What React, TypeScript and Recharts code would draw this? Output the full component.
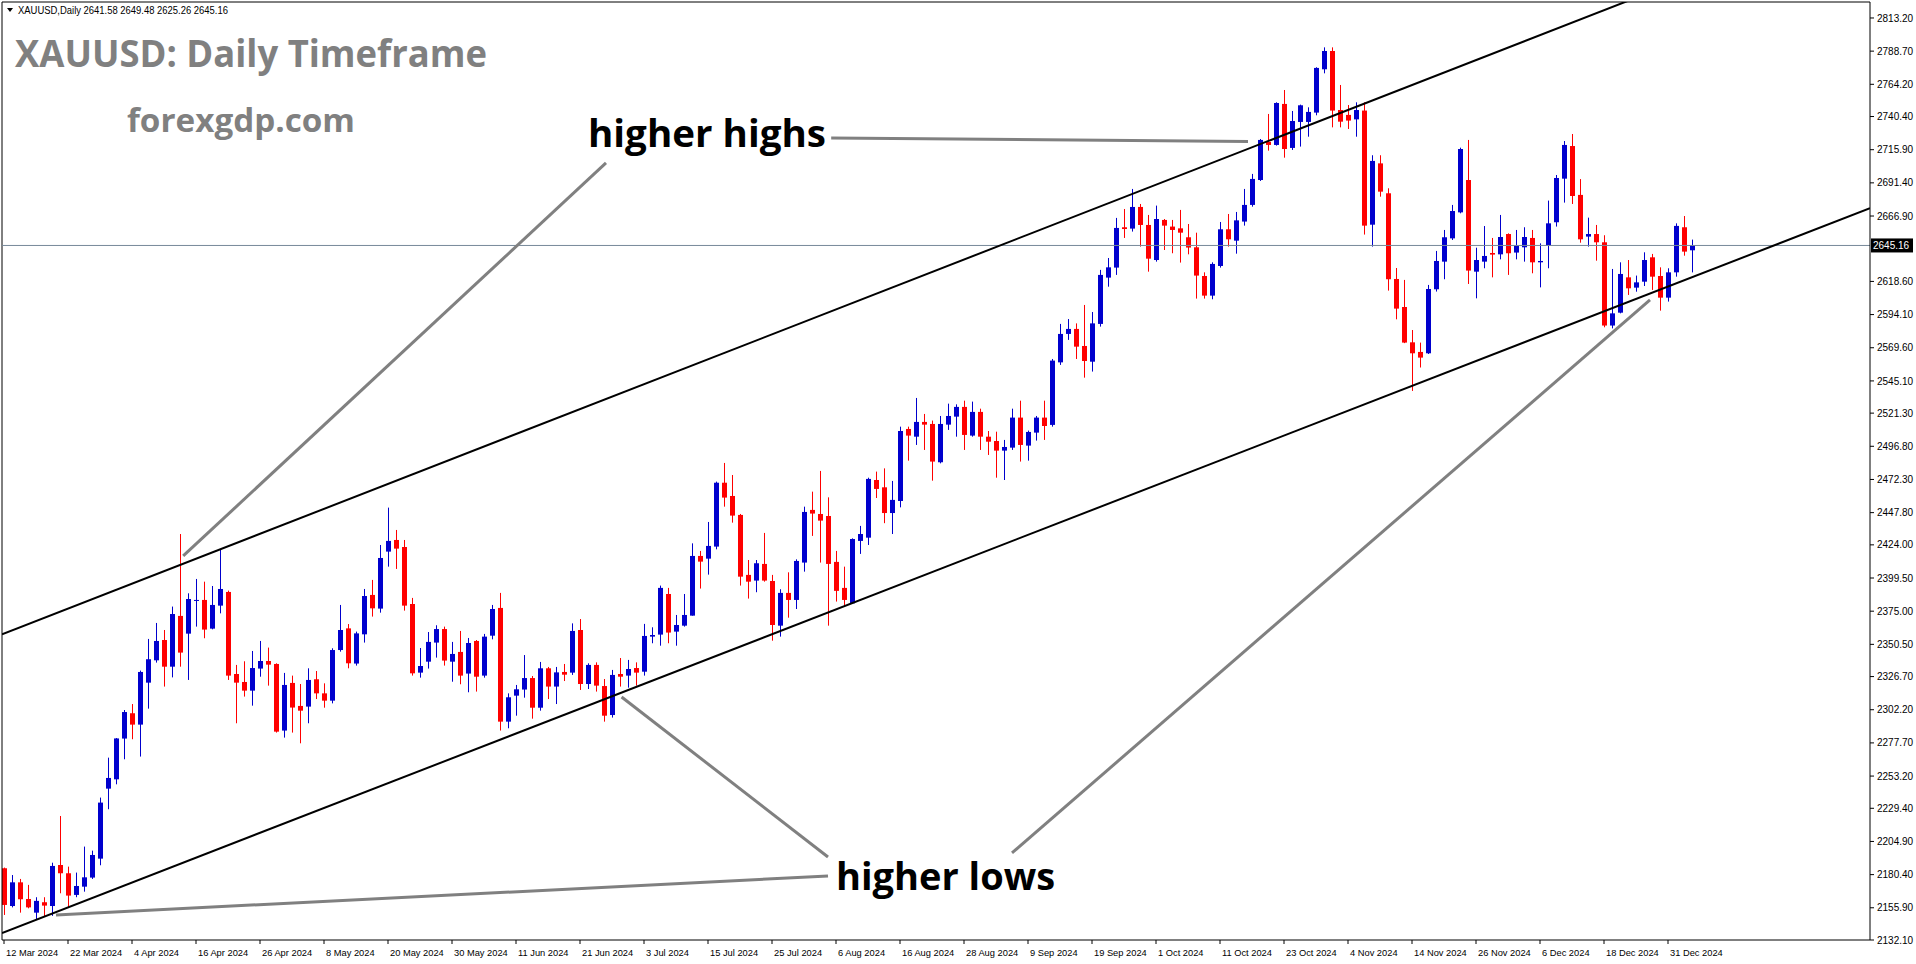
import { ComposedChart, Bar, XAxis, YAxis, ReferenceLine } from "recharts";

// daily candles, 12 Mar 2024 .. 6 Jan 2025 (index = bar number)
const OPENS = [
  2185.1, 2157.2, 2174.7, 2162.4, 2152.3, 2160.0, 2157.2, 2187.5, 2181.4, 2165.4,
  2171.5, 2178.2, 2192.2, 2243.9, 2250.8, 2280.9, 2299.6, 2291.2, 2322.2, 2338.7,
  2353.7, 2334.0, 2371.5, 2358.4, 2382.8, 2383.3, 2362.1, 2379.1, 2389.2, 2328.6,
  2322.7, 2316.3, 2332.6, 2338.2, 2336.0, 2286.8, 2322.0, 2305.0, 2304.5, 2324.7,
  2314.3, 2308.9, 2346.3, 2362.3, 2336.3, 2357.9, 2387.0, 2376.9, 2419.0, 2427.6,
  2422.4, 2380.3, 2329.6, 2337.7, 2351.8, 2361.8, 2337.7, 2344.9, 2328.9, 2353.0,
  2327.4, 2356.9, 2377.4, 2293.4, 2312.6, 2317.1, 2325.6, 2303.7, 2332.8, 2319.3,
  2330.1, 2329.6, 2361.1, 2321.2, 2335.3, 2319.7, 2298.3, 2328.6, 2327.4, 2333.0,
  2330.3, 2356.2, 2357.7, 2387.7, 2359.9, 2364.3, 2371.7, 2415.8, 2413.8, 2422.7,
  2469.9, 2460.1, 2446.1, 2401.8, 2397.6, 2409.9, 2397.3, 2364.3, 2388.5, 2383.3,
  2410.9, 2449.8, 2446.8, 2445.3, 2411.4, 2392.2, 2380.8, 2426.9, 2429.3, 2471.9,
  2466.5, 2447.5, 2456.4, 2509.6, 2503.9, 2514.8, 2513.3, 2485.0, 2512.8, 2518.7,
  2525.9, 2504.7, 2522.2, 2503.9, 2500.7, 2493.6, 2495.8, 2518.0, 2497.3, 2506.9,
  2518.0, 2512.6, 2558.8, 2579.8, 2583.5, 2570.9, 2559.3, 2587.2, 2621.4, 2628.8,
  2658.6, 2657.6, 2673.6, 2660.3, 2634.4, 2664.0, 2659.1, 2657.8, 2651.2, 2643.8,
  2622.6, 2608.1, 2630.0, 2657.1, 2648.7, 2662.8, 2675.1, 2693.5, 2721.8, 2719.4,
  2749.7, 2717.2, 2736.4, 2736.4, 2743.3, 2775.3, 2788.8, 2745.2, 2741.6, 2738.3,
  2744.8, 2660.5, 2705.8, 2683.7, 2620.4, 2599.7, 2573.6, 2566.5, 2565.5, 2612.8,
  2633.2, 2650.4, 2669.6, 2693.5, 2625.8, 2633.2, 2639.6, 2638.6, 2653.6, 2639.9,
  2643.8, 2650.7, 2632.7, 2645.3, 2662.3, 2694.5, 2718.6, 2682.5, 2651.7, 2653.6,
  2647.5, 2586.0, 2595.5, 2621.6, 2614.0, 2618.4, 2636.4, 2622.6, 2606.6, 2625.3,
  2658.6, 2641.58,
];
const HIGHS = [
  2185.6, 2180.1, 2177.2, 2172.8, 2163.7, 2163.7, 2189.2, 2223.7, 2186.3, 2181.9,
  2201.1, 2198.1, 2237.3, 2266.8, 2281.3, 2302.0, 2306.4, 2331.1, 2354.5, 2366.3,
  2361.1, 2378.4, 2432.0, 2388.2, 2398.8, 2396.8, 2393.6, 2420.2, 2390.2, 2335.3,
  2338.0, 2345.6, 2353.0, 2348.1, 2336.5, 2329.4, 2327.4, 2321.2, 2332.8, 2330.8,
  2321.7, 2347.6, 2379.6, 2365.5, 2359.9, 2391.4, 2398.1, 2423.9, 2451.5, 2435.0,
  2427.6, 2384.8, 2347.8, 2359.6, 2364.6, 2363.6, 2352.3, 2360.4, 2355.2, 2353.7,
  2358.2, 2379.6, 2388.5, 2314.3, 2320.5, 2342.6, 2327.1, 2337.5, 2333.8, 2333.8,
  2336.0, 2366.0, 2369.2, 2336.5, 2337.2, 2324.9, 2331.6, 2340.4, 2339.0, 2337.2,
  2365.6, 2363.1, 2393.9, 2392.2, 2372.2, 2387.7, 2425.1, 2419.5, 2440.9, 2470.7,
  2484.5, 2475.6, 2446.8, 2412.8, 2412.8, 2432.8, 2401.8, 2391.2, 2403.7, 2413.3,
  2452.2, 2463.3, 2478.6, 2459.1, 2419.5, 2407.9, 2428.8, 2438.0, 2473.6, 2478.1,
  2480.5, 2471.2, 2511.3, 2511.3, 2532.5, 2520.7, 2515.8, 2519.2, 2528.3, 2527.8,
  2530.5, 2529.8, 2524.6, 2508.1, 2507.6, 2501.5, 2524.6, 2530.5, 2508.4, 2519.2,
  2530.5, 2561.3, 2587.2, 2590.8, 2587.6, 2601.2, 2596.0, 2627.1, 2635.9, 2665.5,
  2672.1, 2686.9, 2675.8, 2667.7, 2674.6, 2664.7, 2664.0, 2671.4, 2661.0, 2654.6,
  2625.3, 2632.7, 2662.5, 2668.4, 2669.9, 2686.9, 2698.0, 2723.8, 2742.3, 2750.9,
  2760.0, 2744.5, 2749.2, 2747.2, 2776.8, 2791.5, 2791.5, 2763.7, 2748.9, 2750.9,
  2750.9, 2711.8, 2711.8, 2687.4, 2628.5, 2619.7, 2582.7, 2573.4, 2616.0, 2641.1,
  2656.6, 2675.1, 2717.4, 2723.1, 2643.5, 2659.5, 2650.7, 2667.7, 2654.1, 2656.6,
  2658.6, 2656.6, 2646.7, 2678.3, 2697.2, 2722.3, 2727.5, 2694.2, 2665.7, 2660.3,
  2652.7, 2627.8, 2632.7, 2634.4, 2622.9, 2640.1, 2638.9, 2629.0, 2628.3, 2661.5,
  2666.9, 2649.48,
];
const LOWS = [
  2150.6, 2156.2, 2152.3, 2155.5, 2146.9, 2149.4, 2149.9, 2166.6, 2156.2, 2163.7,
  2167.8, 2177.2, 2187.3, 2228.7, 2247.1, 2265.6, 2280.4, 2267.6, 2303.0, 2337.0,
  2319.3, 2326.1, 2334.0, 2324.2, 2363.6, 2355.0, 2361.6, 2373.4, 2324.2, 2292.2,
  2311.9, 2305.2, 2326.6, 2320.0, 2285.3, 2281.6, 2285.3, 2277.4, 2292.2, 2310.1,
  2303.7, 2306.9, 2345.1, 2332.8, 2334.8, 2351.8, 2371.0, 2373.9, 2407.9, 2406.2,
  2375.4, 2327.4, 2325.9, 2332.6, 2340.7, 2334.8, 2322.9, 2321.0, 2315.1, 2315.6,
  2325.9, 2354.2, 2286.8, 2288.5, 2297.8, 2311.1, 2295.6, 2301.5, 2310.1, 2306.4,
  2323.4, 2327.9, 2316.8, 2317.5, 2315.6, 2293.4, 2296.4, 2319.3, 2318.5, 2320.0,
  2327.4, 2351.3, 2349.5, 2351.3, 2349.5, 2363.6, 2371.7, 2391.7, 2402.0, 2420.7,
  2452.2, 2440.4, 2393.9, 2384.3, 2389.0, 2396.8, 2353.2, 2356.2, 2370.2, 2376.6,
  2404.2, 2430.6, 2410.9, 2364.3, 2382.1, 2378.4, 2380.3, 2417.3, 2423.9, 2458.6,
  2440.0, 2432.0, 2451.7, 2486.2, 2497.8, 2494.1, 2471.4, 2484.2, 2508.9, 2503.9,
  2494.1, 2503.9, 2494.1, 2490.4, 2473.6, 2471.9, 2494.1, 2485.5, 2486.2, 2501.0,
  2501.5, 2511.3, 2556.9, 2575.4, 2561.3, 2547.5, 2552.0, 2585.2, 2614.7, 2623.4,
  2650.7, 2655.4, 2644.3, 2625.8, 2633.2, 2641.8, 2639.4, 2632.5, 2638.6, 2605.9,
  2605.9, 2605.4, 2628.8, 2644.3, 2639.1, 2659.8, 2673.8, 2692.8, 2715.2, 2718.9,
  2710.0, 2715.7, 2718.2, 2725.5, 2741.3, 2772.3, 2732.4, 2732.4, 2731.2, 2725.5,
  2653.2, 2644.3, 2681.2, 2611.8, 2590.6, 2573.0, 2537.7, 2555.0, 2565.0, 2611.1,
  2620.2, 2649.2, 2668.9, 2616.7, 2606.1, 2628.3, 2621.6, 2634.9, 2623.4, 2634.9,
  2633.2, 2624.6, 2614.2, 2628.3, 2659.1, 2676.8, 2675.8, 2647.2, 2644.3, 2633.9,
  2584.7, 2583.9, 2595.0, 2608.6, 2611.0, 2615.2, 2612.3, 2597.0, 2603.7, 2622.1,
  2637.6, 2625.26,
];
const CLOSES = [
  2158.0, 2174.7, 2162.2, 2156.2, 2161.0, 2157.5, 2186.8, 2181.4, 2164.9, 2172.0,
  2178.4, 2194.9, 2233.6, 2251.8, 2281.0, 2300.5, 2291.2, 2330.1, 2339.5, 2353.0,
  2334.0, 2372.9, 2344.4, 2384.0, 2383.3, 2361.4, 2379.6, 2391.4, 2327.4, 2322.2,
  2316.3, 2333.0, 2338.2, 2335.5, 2286.0, 2320.5, 2303.8, 2301.5, 2324.2, 2314.3,
  2308.9, 2346.3, 2361.1, 2336.5, 2358.6, 2386.2, 2377.1, 2414.3, 2426.9, 2421.2,
  2379.1, 2329.1, 2334.5, 2352.3, 2361.8, 2338.5, 2343.4, 2327.4, 2351.5, 2326.6,
  2356.2, 2376.6, 2293.4, 2311.4, 2317.3, 2325.6, 2303.7, 2332.8, 2319.3, 2329.8,
  2328.1, 2360.4, 2321.2, 2335.3, 2320.0, 2297.8, 2327.9, 2326.6, 2332.3, 2329.6,
  2356.7, 2357.4, 2392.2, 2359.2, 2364.8, 2372.2, 2415.8, 2411.6, 2423.2, 2469.9,
  2458.9, 2445.6, 2400.5, 2396.8, 2410.4, 2397.6, 2364.8, 2388.5, 2383.3, 2412.1,
  2448.3, 2447.1, 2441.9, 2409.9, 2390.0, 2383.3, 2428.3, 2432.0, 2472.7, 2465.3,
  2447.5, 2457.2, 2508.1, 2504.7, 2514.8, 2512.8, 2485.5, 2513.3, 2519.2, 2525.9,
  2505.2, 2522.2, 2503.9, 2500.2, 2493.6, 2496.3, 2518.0, 2497.8, 2507.4, 2518.0,
  2511.8, 2560.1, 2579.8, 2583.5, 2570.4, 2559.8, 2587.6, 2623.4, 2629.0, 2658.1,
  2657.3, 2673.6, 2660.3, 2635.4, 2664.7, 2659.8, 2656.6, 2654.6, 2643.6, 2622.9,
  2608.1, 2631.5, 2657.1, 2649.7, 2663.7, 2675.1, 2694.3, 2723.1, 2719.4, 2750.4,
  2716.4, 2737.1, 2748.7, 2743.8, 2776.3, 2788.8, 2744.8, 2736.6, 2737.4, 2745.2,
  2659.8, 2707.6, 2684.9, 2620.2, 2598.5, 2573.4, 2565.5, 2562.3, 2613.0, 2633.7,
  2651.2, 2670.6, 2716.4, 2626.6, 2634.4, 2637.4, 2638.4, 2651.4, 2639.4, 2644.8,
  2651.4, 2632.7, 2633.7, 2661.5, 2695.0, 2719.4, 2681.7, 2649.7, 2653.6, 2647.5,
  2586.0, 2595.0, 2624.1, 2613.5, 2617.9, 2634.4, 2622.1, 2606.6, 2625.3, 2659.6,
  2640.6, 2645.16,
];

// one date label every 8 bars
const DATE_LABELS = [
  "12 Mar 2024", "22 Mar 2024", "4 Apr 2024", "16 Apr 2024", "26 Apr 2024",
  "8 May 2024", "20 May 2024", "30 May 2024", "11 Jun 2024", "21 Jun 2024",
  "3 Jul 2024", "15 Jul 2024", "25 Jul 2024", "6 Aug 2024", "16 Aug 2024",
  "28 Aug 2024", "9 Sep 2024", "19 Sep 2024", "1 Oct 2024", "11 Oct 2024",
  "23 Oct 2024", "4 Nov 2024", "14 Nov 2024", "26 Nov 2024", "6 Dec 2024",
  "18 Dec 2024", "31 Dec 2024",
];
const BARS_PER_LABEL = 8;

const PRICE_TICKS = [
  2813.2, 2788.7, 2764.2, 2740.4, 2715.9, 2691.4, 2666.9, 2618.6, 2594.1,
  2569.6, 2545.1, 2521.3, 2496.8, 2472.3, 2447.8, 2424.0, 2399.5, 2375.0,
  2350.5, 2326.7, 2302.2, 2277.7, 2253.2, 2229.4, 2204.9, 2180.4, 2155.9,
  2132.1,
];

const LAST_PRICE = 2645.16;

// drawn objects: [barIndex, price]
const UPPER_CHANNEL = [[-0.25, 2357.9], [233.25, 2895.5]];
const LOWER_CHANNEL = [[-0.25, 2137.3], [233.25, 2672.7]];
const POINTERS = [
  [[75.25, 2706.1], [22.4, 2415.8]],
  [[103.4, 2724.6], [155.5, 2722.0]],
  [[6.5, 2150.6], [103.0, 2179.4]],
  [[77.2, 2311.6], [103.0, 2193.4]],
  [[126.0, 2196.4], [205.75, 2604.9]],
];

const X_DOMAIN = [-0.25, 233.25];
const Y_DOMAIN = [2132.1, 2825.0];

const BULL = "#0000CD";
const BEAR = "#FF0000";
const SMALL_FONT = "'Liberation Sans', Arial, sans-serif";
const BIG_FONT = "'Open Sans', 'Noto Sans', sans-serif";

const candles = OPENS.map((open, i) => ({
  i,
  open,
  high: HIGHS[i],
  low: LOWS[i],
  close: CLOSES[i],
}));

const dateTicks = DATE_LABELS.map((_, k) => k * BARS_PER_LABEL);

function Candle(props: any) {
  const { x, y, width, height, payload } = props;
  if (x == null || y == null) return null;
  const { open, close, high, low } = payload;
  const k = height / (high - low || 1);
  const yOpen = y + (high - open) * k;
  const yClose = y + (high - close) * k;
  const color = close >= open ? BULL : BEAR;
  const cx = Math.round(x + width / 2);
  const top = Math.min(yOpen, yClose);
  const h = Math.max(1, Math.abs(yOpen - yClose));
  return (
    <g>
      <line x1={cx + 0.5} x2={cx + 0.5} y1={y} y2={y + height} stroke={color} strokeWidth={1} />
      <rect x={cx - 2} y={top} width={5} height={h} fill={color} />
    </g>
  );
}

function DateTick(props: any) {
  const { x, y, payload } = props;
  return (
    <text x={x + 2} y={y} dy={10} fontSize={9.3} fontFamily={SMALL_FONT} fill="#000" textAnchor="start">
      {DATE_LABELS[Math.round(payload.value / BARS_PER_LABEL)]}
    </text>
  );
}

function PriceTick(props: any) {
  const { x, y, payload } = props;
  return (
    <text x={x} y={y} dy={3.6} fontSize={10} fontFamily={SMALL_FONT} fill="#000" textAnchor="start">
      {payload.value.toFixed(2)}
    </text>
  );
}

function LastPriceLabel(props: any) {
  const { viewBox } = props;
  if (!viewBox) return null;
  const left = viewBox.x + viewBox.width + 1;
  return (
    <g>
      <rect x={left} y={viewBox.y - 7} width={42} height={14} fill="#000" />
      <text x={left + 2} y={viewBox.y} dy={3.6} fontSize={10} fontFamily={SMALL_FONT} fill="#fff">
        {LAST_PRICE.toFixed(2)}
      </text>
    </g>
  );
}

const seg = (pts: number[][]) => pts.map(([x, y]) => ({ x, y }));

export default function App() {
  return (
    <div style={{ position: "absolute", left: 0, top: 0, width: 1916, height: 964, background: "#fff" }}>
      <ComposedChart
        width={1916}
        height={964}
        data={candles}
        margin={{ top: 2, right: 0, bottom: 0, left: 2 }}
      >
        <XAxis
          dataKey="i"
          type="number"
          domain={X_DOMAIN}
          allowDataOverflow
          ticks={dateTicks}
          interval={0}
          height={24}
          tickSize={4}
          tickMargin={2}
          stroke="#000"
          tick={<DateTick />}
        />
        <YAxis
          orientation="right"
          type="number"
          domain={Y_DOMAIN}
          allowDataOverflow
          ticks={PRICE_TICKS}
          interval={0}
          width={46}
          tickSize={4}
          tickMargin={3}
          stroke="#000"
          tick={<PriceTick />}
        />
        <ReferenceLine x={X_DOMAIN[0]} stroke="#000" strokeWidth={1} />
        <ReferenceLine y={Y_DOMAIN[1]} stroke="#000" strokeWidth={1} />
        <ReferenceLine y={LAST_PRICE} stroke="#778899" strokeWidth={1} label={<LastPriceLabel />} />
        <Bar
          dataKey={(d: any) => [d.low, d.high]}
          barSize={5}
          shape={<Candle />}
          isAnimationActive={false}
        />
        <ReferenceLine segment={seg(UPPER_CHANNEL)} stroke="#000" strokeWidth={2} ifOverflow="hidden" />
        <ReferenceLine segment={seg(LOWER_CHANNEL)} stroke="#000" strokeWidth={2} ifOverflow="hidden" />
        {POINTERS.map((p, k) => (
          <ReferenceLine key={k} segment={seg(p)} stroke="#808080" strokeWidth={3} ifOverflow="hidden" />
        ))}
      </ComposedChart>
      <svg
        width={1916}
        height={964}
        style={{ position: "absolute", left: 0, top: 0, pointerEvents: "none" }}
      >
        <path d="M7 8 L13 8 L10 12 Z" fill="#000" />
        <text x={18} y={14} fontSize={10} fontFamily={SMALL_FONT} fill="#000" textLength={210} lengthAdjust="spacingAndGlyphs">
          XAUUSD,Daily  2641.58 2649.48 2625.26 2645.16
        </text>
        <text x={15} y={67} fontSize={37} fontWeight={700} fontFamily={BIG_FONT} fill="#808080" textLength={472} lengthAdjust="spacingAndGlyphs">
          XAUUSD: Daily Timeframe
        </text>
        <text x={127} y={132} fontSize={33} fontWeight={700} fontFamily={BIG_FONT} fill="#808080" textLength={228} lengthAdjust="spacingAndGlyphs">
          forexgdp.com
        </text>
        <text x={588} y={147} fontSize={38} fontWeight={700} fontFamily={BIG_FONT} fill="#000" textLength={238} lengthAdjust="spacingAndGlyphs">
          higher highs
        </text>
        <text x={836} y={890} fontSize={38} fontWeight={700} fontFamily={BIG_FONT} fill="#000">
          higher lows
        </text>
      </svg>
    </div>
  );
}
